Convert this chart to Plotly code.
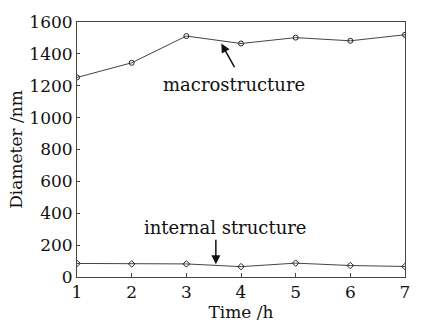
import plotly.graph_objects as go

time_h = [1, 2, 3, 4, 5, 6, 7]
macro = [1252, 1344, 1512, 1465, 1502, 1482, 1520]
internal = [85, 82, 82, 65, 87, 72, 66]
y_ticks = [0, 200, 400, 600, 800, 1000, 1200, 1400, 1600]

FONT = "DejaVu Serif"
LC = "#444444"

fig = go.Figure()
fig.add_trace(go.Scatter(x=time_h, y=macro, mode="lines+markers",
                         line=dict(color=LC, width=1),
                         marker=dict(symbol="circle-open", size=5, color="#222222", line=dict(width=1))))
fig.add_trace(go.Scatter(x=time_h, y=internal, mode="lines+markers",
                         line=dict(color=LC, width=1),
                         marker=dict(symbol="diamond-open", size=5, color="#222222", line=dict(width=1))))

fig.add_annotation(x=3.64, y=1465, ax=14, ay=25, xref="x", yref="y", text="",
                   showarrow=True, arrowhead=2, arrowsize=1.2, arrowwidth=1.5, arrowcolor="#111111")
fig.add_annotation(x=3.875, y=1208, text="macrostructure", showarrow=False,
                   font=dict(family=FONT, size=18, color="#111111"))
fig.add_annotation(x=3.54, y=80, ax=0, ay=-26, xref="x", yref="y", text="",
                   showarrow=True, arrowhead=2, arrowsize=1.2, arrowwidth=1.5, arrowcolor="#111111")
fig.add_annotation(x=3.71, y=308, text="internal structure", showarrow=False,
                   font=dict(family=FONT, size=18, color="#111111"))

fig.update_layout(
    width=422, height=327,
    margin=dict(l=77, r=13, t=16, b=50),
    paper_bgcolor="white", plot_bgcolor="white",
    showlegend=False,
    font=dict(family=FONT, size=17, color="#111111"),
)
fig.update_xaxes(range=[1, 7], tickvals=time_h, ticks="inside", ticklen=4,
                 tickcolor=LC, showline=True, linecolor=LC, linewidth=1, mirror=True,
                 showgrid=False, zeroline=False,
                 title=dict(text="Time /h", standoff=0, font=dict(size=17)),
                 tickfont=dict(size=17))
fig.update_yaxes(range=[0, 1600], tickvals=y_ticks, ticks="inside", ticklen=3,
                 tickcolor=LC, showline=True, linecolor=LC, linewidth=1, mirror=True,
                 showgrid=False, zeroline=False,
                 title=dict(text="Diameter /nm", standoff=2, font=dict(size=17)),
                 tickfont=dict(size=17))

fig.write_html("out.html")
